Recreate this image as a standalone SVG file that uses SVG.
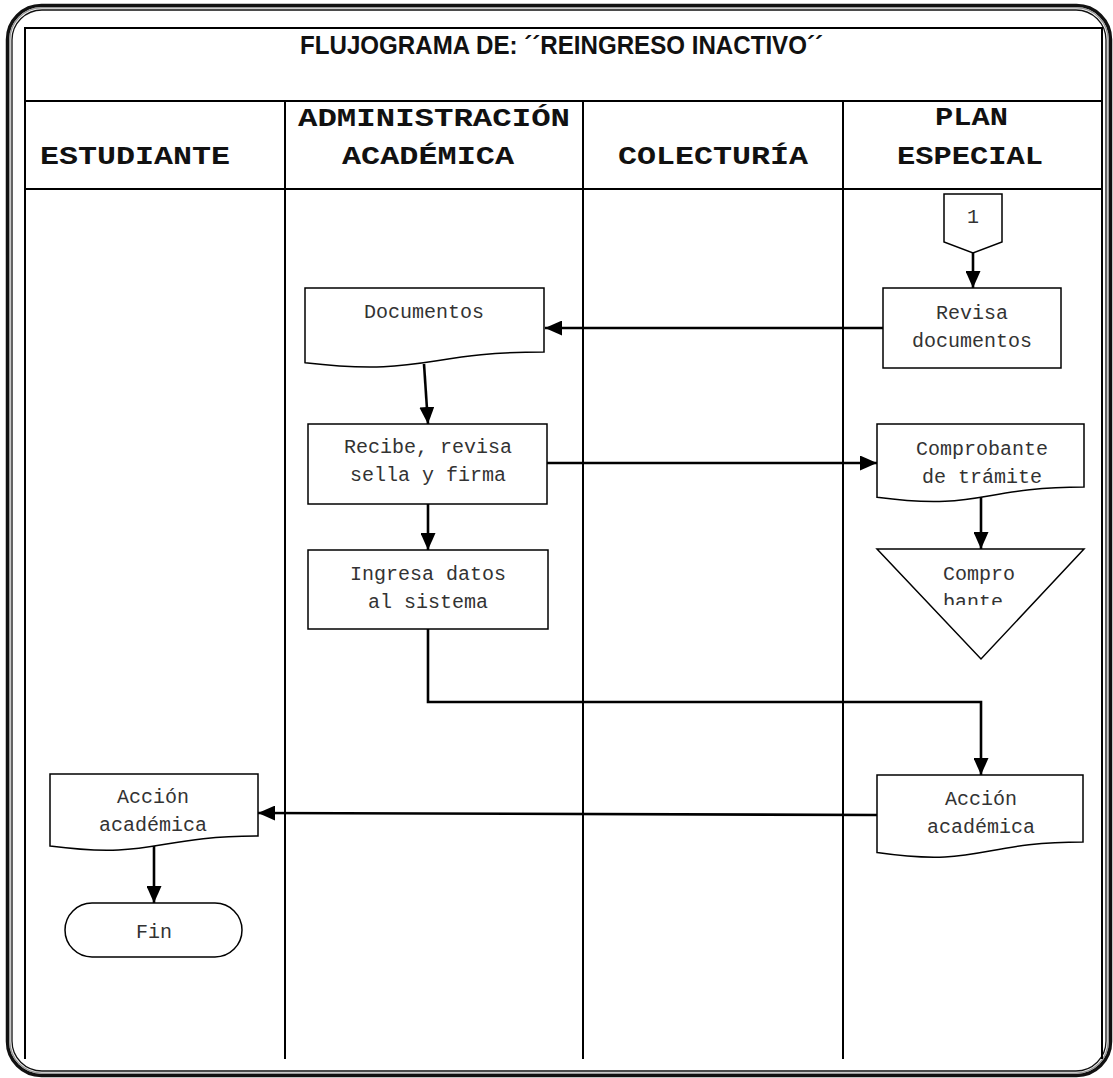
<svg xmlns="http://www.w3.org/2000/svg" width="1113" height="1078" viewBox="0 0 1113 1078">
  <style>
    .frame-outer { fill: none; stroke: #111; stroke-width: 3.5; }
    .frame-mid { fill: none; stroke: #999; stroke-width: 1.5; }
    .frame-inner { fill: none; stroke: #111; stroke-width: 1.3; }
    .grid { stroke: #000; stroke-width: 2; fill: none; }
    .title { font-family: "Liberation Sans", Arial, sans-serif; font-weight: bold; font-size: 25px; fill: #111; }
    .lane { font-family: "Liberation Mono", "Courier New", monospace; font-weight: bold; font-size: 25px; fill: #111; }
    .shape { fill: #fff; stroke: #000; stroke-width: 1.5; }
    .label { font-family: "Liberation Mono", "Courier New", monospace; font-size: 20px; fill: #333; text-anchor: middle; }
    .edge { fill: none; stroke: #000; stroke-width: 2.6; }
  </style>
  <defs>
    <marker id="arrow" markerUnits="userSpaceOnUse" markerWidth="17" markerHeight="15" refX="17" refY="7.5" orient="auto">
      <path d="M0,0 L17,7.5 L0,15 Z" fill="#000"/>
    </marker>
    <clipPath id="triClip">
      <rect x="870" y="545" width="220" height="60"/>
    </clipPath>
  </defs>

  <rect width="1113" height="1078" fill="#fff"/>

  <!-- page frame: double rounded border -->
  <rect class="frame-outer" x="7.5" y="5.5" width="1103" height="1070" rx="34"/>
  <rect class="frame-mid" x="9.8" y="7.8" width="1098.4" height="1065.4" rx="32"/>
  <rect class="frame-inner" x="12" y="10" width="1094" height="1061" rx="30"/>

  <!-- swimlane table -->
  <g id="table">
    <path class="grid" d="M25,1059 V28 H1102 V1059"/>
    <line class="grid" x1="25" y1="101" x2="1102" y2="101"/>
    <line class="grid" x1="25" y1="189" x2="1102" y2="189"/>
    <line class="grid" x1="285" y1="101" x2="285" y2="1059"/>
    <line class="grid" x1="583" y1="101" x2="583" y2="1059"/>
    <line class="grid" x1="843" y1="101" x2="843" y2="1059"/>
    <text class="title" x="300" y="54" textLength="523" lengthAdjust="spacingAndGlyphs">FLUJOGRAMA DE: ´´REINGRESO INACTIVO´´</text>
    <text class="lane" x="40" y="164" textLength="190" lengthAdjust="spacingAndGlyphs">ESTUDIANTE</text>
    <text class="lane" x="298" y="126" textLength="272" lengthAdjust="spacingAndGlyphs">ADMINISTRACIÓN</text>
    <text class="lane" x="342" y="164" textLength="172" lengthAdjust="spacingAndGlyphs">ACADÉMICA</text>
    <text class="lane" x="618" y="164" textLength="190" lengthAdjust="spacingAndGlyphs">COLECTURÍA</text>
    <text class="lane" x="935" y="125" textLength="73" lengthAdjust="spacingAndGlyphs">PLAN</text>
    <text class="lane" x="897" y="164" textLength="146" lengthAdjust="spacingAndGlyphs">ESPECIAL</text>
  </g>

  <!-- connectors -->
  <g id="connectors">
    <line class="edge" x1="973" y1="253" x2="973" y2="288" marker-end="url(#arrow)"/>
    <line class="edge" x1="883" y1="328" x2="545" y2="328" marker-end="url(#arrow)"/>
    <line class="edge" x1="424" y1="364" x2="428" y2="424" marker-end="url(#arrow)"/>
    <line class="edge" x1="547" y1="463" x2="877" y2="463" marker-end="url(#arrow)"/>
    <line class="edge" x1="428" y1="504" x2="428" y2="550" marker-end="url(#arrow)"/>
    <line class="edge" x1="981" y1="496" x2="981" y2="549" marker-end="url(#arrow)"/>
    <path class="edge" d="M428,629 V702 H981 V775" marker-end="url(#arrow)"/>
    <path class="edge" d="M877,815 L258,813" marker-end="url(#arrow)"/>
    <line class="edge" x1="154" y1="846" x2="154" y2="903" marker-end="url(#arrow)"/>
  </g>

  <!-- nodes -->
  <g id="node-connector-1">
    <path class="shape" d="M944,194 H1002 V242 L973,253 L944,242 Z"/>
    <text class="label" x="973" y="223">1</text>
  </g>

  <g id="node-revisa">
    <rect class="shape" x="883" y="288" width="178" height="80"/>
    <text class="label" x="972" y="319">Revisa</text>
    <text class="label" x="972" y="347">documentos</text>
  </g>

  <g id="node-documentos">
    <path class="shape" d="M305,288 H544 V352 C424.5,352 424.5,376.6 305,362.7 Z"/>
    <text class="label" x="424" y="318">Documentos</text>
  </g>

  <g id="node-recibe">
    <rect class="shape" x="308" y="424" width="239" height="80"/>
    <text class="label" x="428" y="453">Recibe, revisa</text>
    <text class="label" x="428" y="481">sella y firma</text>
  </g>

  <g id="node-comprobante">
    <path class="shape" d="M877,424 H1084 V487 C980.5,487 980.5,511 877,497.3 Z"/>
    <text class="label" x="982" y="455">Comprobante</text>
    <text class="label" x="982" y="483">de trámite</text>
  </g>

  <g id="node-archivo">
    <path class="shape" d="M877,549 H1084 L981,659 Z"/>
    <g clip-path="url(#triClip)">
      <text class="label" x="943" y="580" style="text-anchor:start">Compro</text>
      <text class="label" x="943" y="608" style="text-anchor:start">bante</text>
    </g>
  </g>

  <g id="node-ingresa">
    <rect class="shape" x="308" y="550" width="240" height="79"/>
    <text class="label" x="428" y="580">Ingresa datos</text>
    <text class="label" x="428" y="608">al sistema</text>
  </g>

  <g id="node-accion-plan">
    <path class="shape" d="M877,775 H1083 V842 C980,842 980,867.4 877,852.5 Z"/>
    <text class="label" x="981" y="805">Acción</text>
    <text class="label" x="981" y="833">académica</text>
  </g>

  <g id="node-accion-estudiante">
    <path class="shape" d="M50,774 H258 V836 C154,836 154,859.5 50,846 Z"/>
    <text class="label" x="153" y="803">Acción</text>
    <text class="label" x="153" y="831">académica</text>
  </g>

  <g id="node-fin">
    <rect class="shape" x="65" y="903" width="177" height="54" rx="27"/>
    <text class="label" x="154" y="938">Fin</text>
  </g>
</svg>
